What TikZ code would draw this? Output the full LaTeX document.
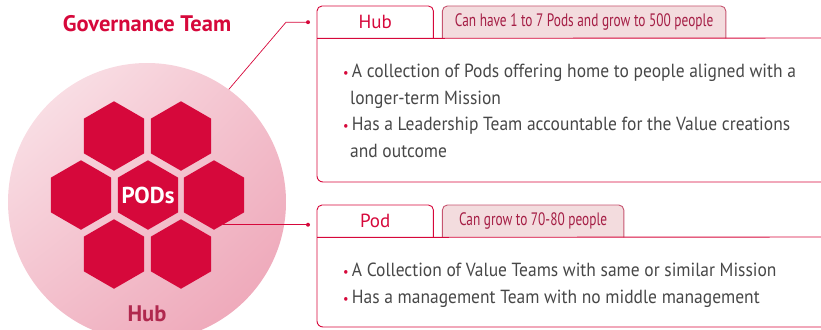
\documentclass[tikz,border=0pt]{standalone}
\usepackage{fontspec}
\setmainfont{PT Sans}
\newfontfamily\narrowfont[FakeStretch=0.74]{PT Sans}
\newfontfamily\bodyfont[FakeStretch=0.92]{PT Sans}
\usetikzlibrary{shapes.geometric,shadings,positioning}

\definecolor{crimson}{HTML}{D6083B}
\definecolor{maroon}{HTML}{A51E45}
\definecolor{hubred}{HTML}{B0284E}
\definecolor{tabpink}{HTML}{F3DCDE}
\definecolor{tabline}{HTML}{C65570}
\definecolor{bodygray}{HTML}{474747}
\definecolor{disclight}{HTML}{FBE9ED}
\definecolor{discdark}{HTML}{EDA1B4}

\newcommand{\redbullet}{\textcolor{crimson}{\scalebox{0.7}{\textbullet}}\,}

\tikzset{
  hexcell/.style={regular polygon,regular polygon sides=6,shape border rotate=30,
    fill=crimson,minimum size=69.5pt,inner sep=0pt},
  hexlabel/.style={text=white,font=\bfseries\fontsize{23}{23}\selectfont},
  heading/.style={font=\bfseries\fontsize{22.5}{22.5}\selectfont},
  tabname/.style={minimum width=116pt,minimum height=32pt,inner sep=0pt,
    text=crimson,font=\fontsize{19}{19}\selectfont},
  tabinfo/.style={minimum height=32pt,inner sep=0pt,
    text=maroon,font=\narrowfont\fontsize{18}{18}\selectfont},
  bodytext/.style={align=left,inner sep=0pt,text=bodygray,
    font=\bodyfont\fontsize{19}{26.5}\selectfont},
  edge/.style={crimson,line width=0.9pt},
  pinline/.style={crimson,line width=0.7pt},
  pin/.style={fill=crimson},
}

\begin{document}
\begin{tikzpicture}[x=1pt,y=-1pt,node distance=9pt]
\clip (0,0) rectangle (821,329);

% hub disc and its pods
\node[circle,minimum size=278pt,inner sep=0pt,
  upper left=disclight,upper right=discdark!55!disclight,
  lower left=discdark!60!disclight,lower right=discdark] (hubdisc) at (147,202) {};
\foreach \name/\pos in {podUL/{114,136},podUR/{181,136},podL/{81,195},
  podC/{148,195},podR/{214,195},podDL/{114,254},podDR/{181,254}}
  \node[hexcell] (\name) at (\pos) {};
\node[hexlabel] (podtitle) at (podC) {PODs};
\node[heading,text=crimson] (govtitle) at (147,24) {Governance Team};
\node[heading,text=hubred] (hubtitle) at (147,314) {Hub};

% hub panel
\node[tabname,anchor=north west] (hubtab) at (317,6) {Hub};
\node[tabinfo,minimum width=283pt,right=of hubtab] (hubinfo) {};
\filldraw[tabline,fill=tabpink,line width=0.9pt,rounded corners=5pt]
  (hubinfo.south west) |- (hubinfo.north) -| (hubinfo.south east);
\node[tabinfo,minimum width=283pt] at (hubinfo) {Can have 1 to 7 Pods and grow to 500 people};
\draw[edge,rounded corners=5pt] (hubtab.south west) |- (hubtab.north) -| (hubtab.south east);
\draw[edge] (830,38) -- (hubtab.south west);
\draw[edge,rounded corners=6pt] (hubtab.south west) |- (830,182);
\node[bodytext,anchor=north west] (hubtext) at (343,64)
  {\redbullet A collection of Pods offering home to people aligned with a\\
   \hspace*{7pt}longer-term Mission\\
   \redbullet Has a Leadership Team accountable for the Value creations\\
   \hspace*{7pt}and outcome};

% pod panel
\node[tabname,anchor=north west] (podtab) at (317,205) {Pod};
\node[tabinfo,minimum width=181pt,right=of podtab] (podinfo) {};
\filldraw[tabline,fill=tabpink,line width=0.9pt,rounded corners=5pt]
  (podinfo.south west) |- (podinfo.north) -| (podinfo.south east);
\node[tabinfo,minimum width=181pt] at (podinfo) {Can grow to 70-80 people};
\draw[edge,rounded corners=5pt] (podtab.south west) |- (podtab.north) -| (podtab.south east);
\draw[edge] (830,237) -- (podtab.south west);
\draw[edge,rounded corners=6pt] (podtab.south west) |- (830,327);
\node[bodytext,anchor=north west] (podtext) at (343,263)
  {\redbullet A Collection of Value Teams with same or similar Mission\\
   \redbullet Has a management Team with no middle management};

% connectors
\coordinate[left=of hubtab.west] (pin1);
\coordinate (pin2) at (podR.-73 -| pin1);
\draw[pinline] (hubdisc.54) -- ([xshift=-22pt]pin1) -- (pin1);
\draw[pinline] (podR.-73) -- (pin2);
\fill[pin] (pin1) circle (2pt);
\fill[pin] (pin2) circle (2pt);
\end{tikzpicture}
\end{document}
